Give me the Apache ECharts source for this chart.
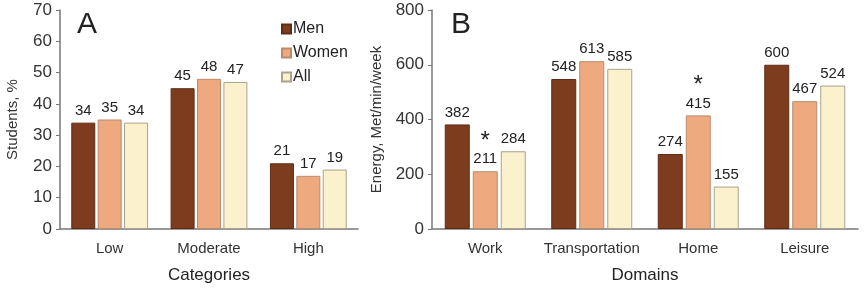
<!DOCTYPE html>
<html>
<head>
<meta charset="utf-8">
<script src="https://cdn.jsdelivr.net/npm/echarts@6/dist/echarts.min.js"></script>
<style>
  html, body { margin: 0; padding: 0; background: #fff; }
  #chart { width: 868px; height: 289px; }
</style>
</head>
<body>
<div id="chart"></div>
<script>
// 数据
var levels = ['Low', 'Moderate', 'High']
var levelMen = [34, 45, 21]
var levelWomen = [35, 48, 17]
var levelAll = [34, 47, 19]

var domains = ['Work', 'Transportation', 'Home', 'Leisure']
var domainMen = [382, 548, 274, 600]
var domainWomen = [211, 613, 415, 467]
var domainAll = [284, 585, 155, 524]
// 显著差异（女性）
var womenStar = ['Work', 'Home']

var font = 'Liberation Sans, Arial, sans-serif'
var colors = {
  Men: { fill: '#7d3c1e', border: '#5e2c15' },
  Women: { fill: '#efa97e', border: '#b98b6d' },
  All: { fill: '#fcf1cd', border: '#a9a28f' }
}

function yAxisCfg (gridIndex, max, interval, name, nameGap) {
  return {
    type: 'value',
    gridIndex: gridIndex,
    min: 0,
    max: max,
    interval: interval,
    name: name,
    nameLocation: 'middle',
    nameGap: nameGap,
    nameTextStyle: { color: '#333', fontSize: 15, fontFamily: font },
    splitLine: { show: false },
    axisLine: { show: true, lineStyle: { color: '#777', width: 1.5 } },
    axisTick: { show: true, length: 4, lineStyle: { color: '#777' } },
    axisLabel: { color: '#333', fontSize: 17, fontFamily: font, margin: 8 }
  }
}

function xAxisCfg (gridIndex, data, name) {
  return {
    type: 'category',
    gridIndex: gridIndex,
    data: data,
    name: name,
    nameLocation: 'middle',
    nameGap: 38,
    nameTextStyle: { color: '#222', fontSize: 17, fontFamily: font },
    axisLine: { lineStyle: { color: '#777', width: 1.5 } },
    axisTick: { show: false },
    axisLabel: { interval: 0, color: '#333', fontSize: 15, fontFamily: font, margin: 12 }
  }
}

function barSeries (name, data, idx, width, gap, starCats, cats) {
  return {
    name: name,
    type: 'bar',
    xAxisIndex: idx,
    yAxisIndex: idx,
    data: data,
    barWidth: width,
    barGap: gap,
    itemStyle: { color: colors[name].fill, borderColor: colors[name].border, borderWidth: 1 },
    label: {
      show: true,
      position: 'top',
      distance: 3,
      color: '#222',
      fontSize: 15,
      fontFamily: font,
      formatter: function (p) {
        if (starCats && starCats.indexOf(cats[p.dataIndex]) >= 0) {
          return '{s|*}\n' + p.value
        }
        return '' + p.value
      },
      rich: {
        s: { fontSize: 24, fontFamily: font, color: '#222', lineHeight: 18 }
      },
      lineHeight: 18
    }
  }
}

var myChart = echarts.init(document.getElementById('chart'))
var option = {
  animation: false,
  backgroundColor: '#fff',
  grid: [
    { left: 60, right: 510, top: 10, bottom: 56 },
    { left: 432, right: 10, top: 10, bottom: 56 }
  ],
  legend: {
    orient: 'vertical',
    left: 276,
    top: 16,
    itemWidth: 9,
    itemHeight: 9,
    itemGap: 8,
    icon: 'rect',
    data: ['Men', 'Women', 'All'],
    textStyle: { color: '#222', fontSize: 16, fontFamily: font, padding: [0, 0, 0, -3] }
  },
  graphic: [
    { type: 'text', left: 77, top: 10, style: { text: 'A', fontSize: 30, fontFamily: font, fill: '#222' } },
    { type: 'text', left: 451, top: 10, style: { text: 'B', fontSize: 30, fontFamily: font, fill: '#222' } }
  ],
  xAxis: [xAxisCfg(0, levels, 'Categories'), xAxisCfg(1, domains, 'Domains')],
  yAxis: [
    yAxisCfg(0, 70, 10, 'Students, %', 40),
    yAxisCfg(1, 800, 200, 'Energy, Met/min/week', 48)
  ],
  series: [
    barSeries('Men', levelMen, 0, 24, '10%'),
    barSeries('Women', levelWomen, 0, 24, '10%'),
    barSeries('All', levelAll, 0, 24, '10%'),
    barSeries('Men', domainMen, 1, 25, '12%'),
    barSeries('Women', domainWomen, 1, 25, '12%', womenStar, domains),
    barSeries('All', domainAll, 1, 25, '12%')
  ]
}
myChart.setOption(option)
window.onresize = myChart.resize
</script>
</body>
</html>
